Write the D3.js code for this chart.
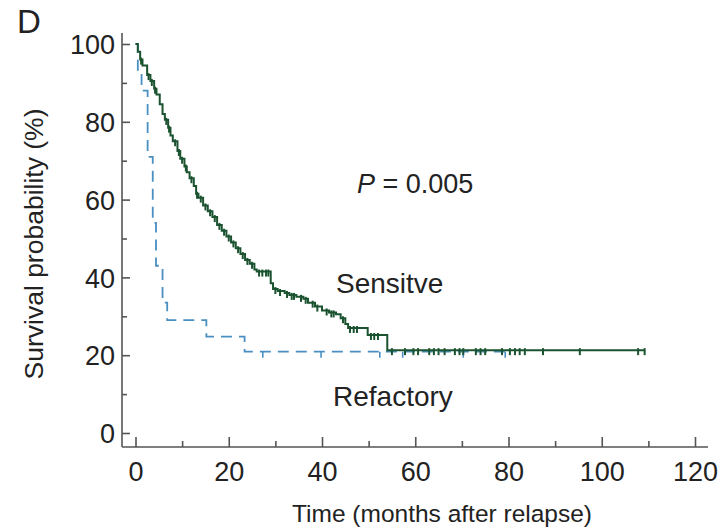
<!DOCTYPE html>
<html><head><meta charset="utf-8">
<script src="https://cdn.jsdelivr.net/npm/d3@7"></script>
<style>body{margin:0;background:#fff}text{font-family:"Liberation Sans",Arial,sans-serif}</style>
</head><body>
<svg id="c" width="720" height="529"></svg>
<script>
// Sensitive: Kaplan-Meier step points [months, survival %]
const sensitiveT = [0,0.5,1,1.5,2.5,3.2,4,4.5,5.2,5.8,6.3,7,7.5,8,9,9.6,10.5,11,11.6,12.5,13,13.5,14.5,15.5,16.5,17.5,18.5,19.5,20.5,21.5,22.5,23.5,24.5,25.5,26,29,29.5,30.5,32,33,34.5,36,37,38.5,40,41.5,43,44,45,45.6,49.8,54,109.2];
const sensitiveS = [100,98,96,94.5,92,90.5,88.5,87,84.5,82,80.5,78.5,76.5,75,72.5,70.5,68.5,67,65.5,63.5,61.5,60.5,58.5,57,55.5,53.5,52,50.5,49,47.5,46,44.5,43.5,42,41.5,38.5,37,36.5,36,35.5,35,34.5,33.5,32.5,31.5,31,30.5,29.5,28,27,25.2,21.3,21.3];
const sensitiveCensor = [1.2,2.8,3.5,4.2,6.6,7.2,8.5,9.3,10,10.8,12,13.2,14,15,16,17,18,19,20,21,22,23,24,25,26.5,27.2,28,28.5,30,31,32.5,33.5,34,35.5,36.5,38,39,41,42,42.5,44.5,46,46.8,47.5,50.5,51.2,52,55,57.8,59.6,60.6,63,64,65,66.3,68.5,69.5,70.3,73,74,75,78.6,80.3,81.4,82.4,83.5,87.4,95.3,107.8,109.2];
// Refractory
const refractoryT = [0,0.5,1.3,2.6,3.7,4.4,5.8,6.8,15.2,23.4,79.3];
const refractoryS = [100,93,88,71,54,43,33.5,29,24.8,20.9,20.9];
const refractoryCensor = [27.3,39.8,52.4,57.3,70.3,79.3];
const xTicks = [0,20,40,60,80,100,120];
const xMinor = [10,30,50,70,90,110];
const yTicks = [0,20,40,60,80,100];
const yMinor = [10,30,50,70,90];

const svg = d3.select("#c");
const x = d3.scaleLinear().domain([0,120]).range([135.5,695]);
const y = d3.scaleLinear().domain([0,100]).range([433,44]);
const axisCol = "#555", txt = "#222";
const green = "#1b5330", blue = "#4a8fc2";
const FONT = "Liberation Sans, Arial, sans-serif";

// frame lines
svg.append("line").attr("x1",122).attr("x2",122).attr("y1",33).attr("y2",447).attr("stroke",axisCol).attr("stroke-width",1.6);
svg.append("line").attr("x1",122).attr("x2",708).attr("y1",447).attr("y2",447).attr("stroke",axisCol).attr("stroke-width",1.6);

// y axis (ticks inward)
const ya = svg.append("g").attr("transform","translate(122,0)")
  .call(d3.axisLeft(y).tickValues(yTicks).tickSize(-8).tickPadding(6).tickFormat(d3.format("d")));
ya.select(".domain").remove();
ya.selectAll("line").attr("stroke",axisCol).attr("stroke-width",1.6);
ya.selectAll("text").attr("font-size",27).attr("fill",txt).attr("font-family",FONT).attr("x",-7).attr("dy","0.36em");
const yb = svg.append("g").attr("transform","translate(122,0)")
  .call(d3.axisLeft(y).tickValues(yMinor).tickSize(-5).tickFormat(""));
yb.select(".domain").remove();
yb.selectAll("line").attr("stroke",axisCol).attr("stroke-width",1.6);

// x axis (ticks inward)
const xa = svg.append("g").attr("transform","translate(0,447)")
  .call(d3.axisBottom(x).tickValues(xTicks).tickSize(-10).tickPadding(16).tickFormat(d3.format("d")));
xa.select(".domain").remove();
xa.selectAll("line").attr("stroke",axisCol).attr("stroke-width",1.6);
xa.selectAll("text").attr("font-size",27).attr("fill",txt).attr("font-family",FONT).attr("dy","0").attr("y",34);
const xb = svg.append("g").attr("transform","translate(0,447)")
  .call(d3.axisBottom(x).tickValues(xMinor).tickSize(-6).tickFormat(""));
xb.select(".domain").remove();
xb.selectAll("line").attr("stroke",axisCol).attr("stroke-width",1.6);

// curves
const step = d3.line().curve(d3.curveStepAfter).x(d=>x(d[0])).y(d=>y(d[1]));
const sData = sensitiveT.map((t,i)=>[t,sensitiveS[i]]);
const rData = refractoryT.map((t,i)=>[t,refractoryS[i]]);

function survAt(T,S,t){let v=S[0];for(let i=0;i<T.length;i++){if(T[i]<=t)v=S[i];}return v;}

svg.append("path").datum(rData).attr("d",step).attr("fill","none").attr("stroke",blue).attr("stroke-width",1.8).attr("stroke-dasharray","11,7");
svg.append("g").selectAll("line").data(refractoryCensor).join("line")
  .attr("x1",d=>x(d)).attr("x2",d=>x(d)).attr("y1",d=>y(survAt(refractoryT,refractoryS,d))).attr("y2",d=>y(survAt(refractoryT,refractoryS,d))+6)
  .attr("stroke",blue).attr("stroke-width",1.6);

svg.append("path").datum(sData).attr("d",step).attr("fill","none").attr("stroke",green).attr("stroke-width",2);
svg.append("g").selectAll("line").data(sensitiveCensor).join("line")
  .attr("x1",d=>x(d)).attr("x2",d=>x(d)).attr("y1",d=>y(survAt(sensitiveT,sensitiveS,d))-2).attr("y2",d=>y(survAt(sensitiveT,sensitiveS,d))+5)
  .attr("stroke",green).attr("stroke-width",2);

// titles
svg.append("text").attr("x",442).attr("y",522).attr("text-anchor","middle").attr("font-size",24.5).attr("fill",txt).text("Time (months after relapse)");
svg.append("text").attr("transform","translate(43,244) rotate(-90)").attr("text-anchor","middle").attr("font-size",26.5).attr("fill",txt).text("Survival probability (%)");
svg.append("text").attr("x",17).attr("y",33).attr("font-size",33).attr("fill",txt).text("D");
const p = svg.append("text").attr("x",357).attr("y",193).attr("font-size",27).attr("fill",txt);
p.append("tspan").attr("font-style","italic").text("P");
p.append("tspan").text(" = 0.005");
svg.append("text").attr("x",336).attr("y",293).attr("font-size",28).attr("fill",txt).text("Sensitve");
svg.append("text").attr("x",333).attr("y",406).attr("font-size",28).attr("fill",txt).text("Refactory");
</script>
</body></html>
